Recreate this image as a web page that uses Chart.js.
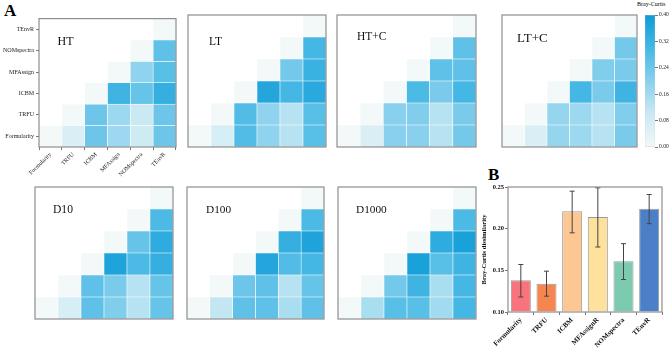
<!DOCTYPE html>
<html>
<head>
<meta charset="utf-8">
<script src="https://cdn.jsdelivr.net/npm/chart.js@4"></script>
<style>
body{margin:0;width:670px;height:349px;background:#fff;position:relative;overflow:hidden;font-family:"Liberation Serif",serif}
.lbl{position:absolute;font-weight:bold;font-size:17px;line-height:17px}
canvas{position:absolute}
</style>
</head>
<body>
<div class="lbl" style="left:4px;top:2px">A</div>
<div class="lbl" style="left:488px;top:166px">B</div>
<div style="position:absolute;left:637px;top:1px;font-size:6px">Bray-Curtis</div>
<script>
// methods compared (bottom -> top, left -> right)
const methods = ["Formularity", "TRFU", "ICBM", "MFAssign", "NOMspectra", "TEnvR"];

// Bray-Curtis values, row i holds columns i..5 (diagonal first)
const HT = [
  [0, 0.06, 0.24, 0.17, 0.09, 0.24],
  [0, 0.24, 0.17, 0.10, 0.24],
  [0, 0.31, 0.25, 0.33],
  [0, 0.19, 0.27],
  [0, 0.26],
  [0]
];
const LT = [
  [0, 0.07, 0.28, 0.19, 0.13, 0.27],
  [0, 0.28, 0.19, 0.13, 0.27],
  [0, 0.36, 0.30, 0.35],
  [0, 0.23, 0.32],
  [0, 0.30],
  [0]
];
const HTC = [
  [0, 0.06, 0.20, 0.20, 0.13, 0.23],
  [0, 0.20, 0.21, 0.13, 0.22],
  [0, 0.29, 0.22, 0.30],
  [0, 0.26, 0.26],
  [0, 0.26],
  [0]
];
const LTC = [
  [0, 0.06, 0.18, 0.17, 0.13, 0.22],
  [0, 0.18, 0.17, 0.13, 0.21],
  [0, 0.30, 0.22, 0.31],
  [0, 0.21, 0.22],
  [0, 0.23],
  [0]
];
const D10 = [
  [0, 0.07, 0.26, 0.21, 0.13, 0.25],
  [0, 0.26, 0.22, 0.13, 0.25],
  [0, 0.37, 0.29, 0.33],
  [0, 0.25, 0.34],
  [0, 0.29],
  [0]
];
const D100 = [
  [0, 0.11, 0.26, 0.26, 0.15, 0.26],
  [0, 0.24, 0.26, 0.13, 0.25],
  [0, 0.36, 0.28, 0.30],
  [0, 0.33, 0.37],
  [0, 0.29],
  [0]
];
const D1000 = [
  [0, 0.15, 0.27, 0.27, 0.16, 0.30],
  [0, 0.23, 0.31, 0.15, 0.30],
  [0, 0.38, 0.27, 0.31],
  [0, 0.34, 0.38],
  [0, 0.29],
  [0]
];

// panel B
const barLabels = ["Formularity", "TRFU", "ICBM", "MFAssignR", "NOMspectra", "TEnvR"];
const barMeans = [0.138, 0.134, 0.221, 0.214, 0.161, 0.224];
const errLow = [0.118, 0.119, 0.195, 0.178, 0.139, 0.206];
const errHigh = [0.157, 0.149, 0.245, 0.249, 0.182, 0.241];
const barColors = ["#f8737b", "#f5864f", "#fdc793", "#fee19d", "#7ccbae", "#4b80c8"];

// colour scale 0 .. 0.4
const stops = [[0, [243, 248, 248]], [0.1, [202, 233, 243]], [0.2, [136, 208, 237]], [0.3, [68, 183, 228]], [0.4, [14, 155, 215]]];
function shade(v) {
  for (let k = 1; k < stops.length; k++) {
    if (v <= stops[k][0] || k == stops.length - 1) {
      const a = stops[k - 1], b = stops[k];
      const t = Math.max(0, Math.min(1, (v - a[0]) / (b[0] - a[0])));
      const c = a[1].map((x, n) => Math.round(x + (b[1][n] - x) * t));
      return "rgb(" + c.join(",") + ")";
    }
  }
}

const serif = "'Liberation Serif', serif";

function addCanvas(x, y, w, h) {
  const c = document.createElement("canvas");
  c.width = w; c.height = h;
  c.style.left = x + "px"; c.style.top = y + "px";
  c.style.width = w + "px"; c.style.height = h + "px";
  document.body.appendChild(c);
  return c;
}

const frame = {
  id: "frame",
  afterDraw(chart, args, opts) {
    const a = chart.chartArea, ctx = chart.ctx;
    ctx.save();
    ctx.strokeStyle = "#8e8e8e";
    ctx.lineWidth = 1.2;
    ctx.strokeRect(a.left, a.top, a.right - a.left, a.bottom - a.top);
    if (opts.text) {
      ctx.fillStyle = "#111";
      ctx.font = opts.size + "px " + serif;
      ctx.fillText(opts.text, a.left + opts.dx, a.top + opts.dy);
    }
    ctx.restore();
  }
};

const panels = [
  {name: "HT", rows: HT},
  {name: "LT", rows: LT},
  {name: "HT+C", rows: HTC},
  {name: "LT+C", rows: LTC},
  {name: "D10", rows: D10},
  {name: "D100", rows: D100},
  {name: "D1000", rows: D1000}
];
// plot rectangles and title placement
const boxes = [
  {l: 39, t: 15, r: 176, b: 147, fs: 12, dx: 18.5, dy: 26.5},
  {l: 188, t: 15, r: 326, b: 147, fs: 11.5, dx: 21, dy: 30},
  {l: 337, t: 15, r: 476, b: 147, fs: 11.5, dx: 20, dy: 25},
  {l: 502, t: 15, r: 637, b: 147, fs: 13, dx: 15, dy: 27},
  {l: 35, t: 187, r: 173, b: 319, fs: 11.6, dx: 18, dy: 26},
  {l: 187, t: 187, r: 324, b: 319, fs: 11.3, dx: 19, dy: 26},
  {l: 338, t: 187, r: 476, b: 319, fs: 11.3, dx: 18, dy: 26}
];

panels.forEach((p, k) => {
  const bx = boxes[k];
  const labelled = k == 0;
  let cv, pad;
  if (labelled) {
    cv = addCanvas(0, bx.t - 2, bx.r + 4, 177);
    pad = {left: 0, top: 2, right: 4, bottom: 0};
  } else {
    cv = addCanvas(bx.l - 2, bx.t - 2, bx.r - bx.l + 4, bx.b - bx.t + 4);
    pad = 2;
  }
  const datasets = p.rows.map((row, i) => ({
    data: methods.map((m, j) => j >= i ? [i, i + 1] : null),
    backgroundColor: methods.map((m, j) => j >= i ? shade(row[j - i]) : "rgba(0,0,0,0)"),
    borderColor: "#ffffff",
    borderWidth: 0.6,
    borderSkipped: false,
    grouped: false,
    barPercentage: 1,
    categoryPercentage: 1
  }));
  new Chart(cv, {
    type: "bar",
    data: {labels: methods, datasets: datasets},
    options: {
      responsive: false,
      animation: false,
      layout: {padding: pad},
      plugins: {
        legend: {display: false},
        tooltip: {enabled: false},
        frame: {text: p.name, size: bx.fs, dx: bx.dx, dy: bx.dy}
      },
      scales: {
        x: {
          display: labelled,
          offset: true,
          grid: {display: true, drawOnChartArea: false, tickLength: 3, color: "#777"},
          border: {display: false},
          ticks: {autoSkip: false, minRotation: 45, maxRotation: 45, padding: 1,
                  font: {family: serif, size: 6}, color: "#222"},
          afterFit: s => { if (labelled) s.height = 43; }
        },
        y: {
          display: labelled,
          min: 0, max: 6,
          afterBuildTicks: s => { s.ticks = methods.map((m, i) => ({value: i + 0.5})); },
          grid: {display: true, drawOnChartArea: false, tickLength: 3, color: "#777"},
          border: {display: false},
          ticks: {padding: 2, font: {family: serif, size: 6}, color: "#222",
                  callback: (v, i) => methods[i]},
          afterFit: s => { if (labelled) s.width = 39; }
        }
      }
    },
    plugins: [frame]
  });
});

// colour bar
const cb = addCanvas(630, 0, 40, 155);
new Chart(cb, {
  type: "bar",
  data: {
    labels: [""],
    datasets: [{
      data: [[0, 0.4]],
      barPercentage: 1, categoryPercentage: 1,
      borderColor: "#c8c8c8", borderWidth: 0.5, borderSkipped: false,
      backgroundColor: ctx => {
        const a = ctx.chart.chartArea;
        if (!a) return "#fff";
        const g = ctx.chart.ctx.createLinearGradient(0, a.bottom, 0, a.top);
        stops.forEach(s => g.addColorStop(s[0] / 0.4, "rgb(" + s[1].join(",") + ")"));
        return g;
      }
    }]
  },
  options: {
    responsive: false, animation: false,
    layout: {padding: {left: 15, top: 15, bottom: 8, right: 0}},
    plugins: {legend: {display: false}, tooltip: {enabled: false}},
    scales: {
      x: {display: false},
      y: {
        position: "right", min: 0, max: 0.4,
        grid: {drawOnChartArea: false, tickLength: 3, color: "#777"},
        border: {display: false},
        ticks: {stepSize: 0.08, padding: 1, font: {family: serif, size: 5.5}, color: "#222",
                callback: v => v.toFixed(2)},
        afterFit: s => { s.width = 15; }
      }
    }
  }
});

// panel B bars with error bars
const errorBars = {
  id: "errorBars",
  afterDatasetsDraw(chart) {
    const ctx = chart.ctx, y = chart.scales.y;
    const meta = chart.getDatasetMeta(0);
    ctx.save();
    ctx.strokeStyle = "#444";
    ctx.lineWidth = 1;
    meta.data.forEach((bar, i) => {
      const y1 = y.getPixelForValue(errLow[i]), y2 = y.getPixelForValue(errHigh[i]);
      ctx.beginPath();
      ctx.moveTo(bar.x, y1); ctx.lineTo(bar.x, y2);
      ctx.moveTo(bar.x - 2.5, y1); ctx.lineTo(bar.x + 2.5, y1);
      ctx.moveTo(bar.x - 2.5, y2); ctx.lineTo(bar.x + 2.5, y2);
      ctx.stroke();
    });
    ctx.restore();
  }
};
const bc = addCanvas(470, 160, 200, 189);
new Chart(bc, {
  type: "bar",
  data: {
    labels: barLabels,
    datasets: [{
      data: barMeans,
      base: 0.1,
      backgroundColor: barColors,
      borderColor: "#9a9a9a",
      borderWidth: 1,
      barPercentage: 0.78,
      categoryPercentage: 1
    }]
  },
  options: {
    responsive: false, animation: false,
    layout: {padding: {left: 8, top: 27, right: 8, bottom: 0}},
    plugins: {legend: {display: false}, tooltip: {enabled: false}, frame: {}},
    scales: {
      x: {
        grid: {drawOnChartArea: false, tickLength: 3, color: "#777"},
        border: {display: false},
        ticks: {autoSkip: false, minRotation: 45, maxRotation: 45, padding: 1,
                font: {family: serif, size: 7, weight: "bold"}, color: "#111"},
        afterFit: s => { s.height = 37; }
      },
      y: {
        min: 0.1, max: 0.25,
        grid: {drawOnChartArea: false, tickLength: 3, color: "#777"},
        border: {display: false},
        ticks: {stepSize: 0.05, padding: 1, font: {family: serif, size: 6.5, weight: "bold"}, color: "#111",
                callback: v => v.toFixed(2)},
        title: {display: true, text: "Bray-Curtis dissimilarity", padding: 2,
                font: {family: serif, size: 6.5, weight: "bold"}, color: "#111"},
        afterFit: s => { s.width = 30; }
      }
    }
  },
  plugins: [frame, errorBars]
});
</script>
</body>
</html>
